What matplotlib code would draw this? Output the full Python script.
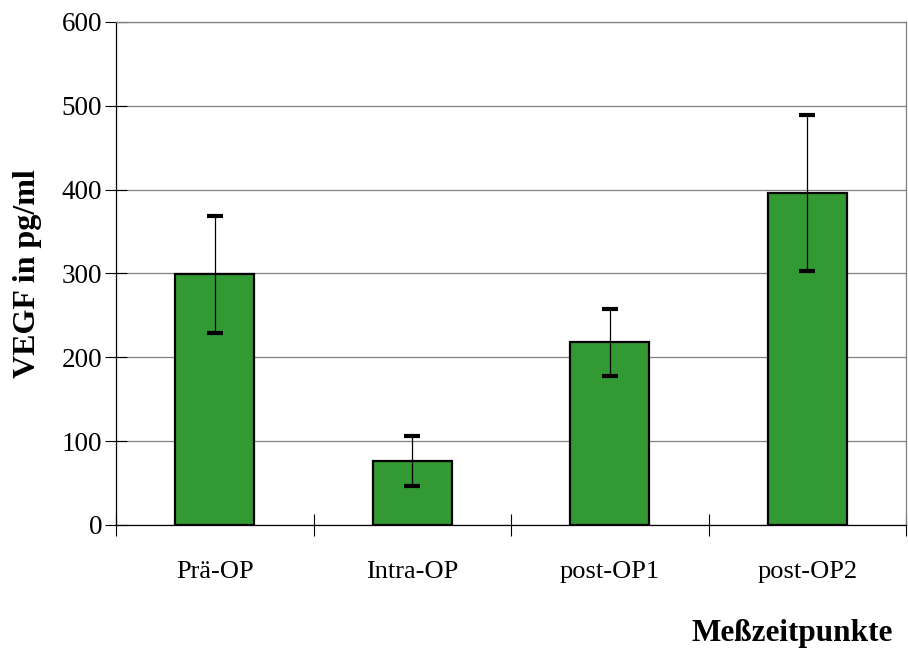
import numpy as np
import matplotlib.pyplot as plt

plt.rcParams['font.family'] = ['Liberation Serif', 'DejaVu Serif']

categories = ['Prä-OP', 'Intra-OP', 'post-OP1', 'post-OP2']
vegf = [299, 76, 218, 396]
err = [70, 30, 40, 93]

fig = plt.figure(figsize=(9.08, 6.49), dpi=100)
ax = fig.add_axes([116/908, 1-525/649, 790/908, 503/649])

x = np.arange(len(categories))
ax.bar(x, vegf, width=0.4, color='#339933', edgecolor='black', linewidth=1.6, zorder=2)
ax.errorbar(x, vegf, yerr=err, fmt='none', ecolor='black', elinewidth=0.9,
            capsize=5.8, capthick=3, zorder=3)

ax.set_xlim(-0.5, len(categories)-0.5)
ax.set_ylim(0, 600)
ax.set_yticks(np.arange(0, 601, 100))
ax.yaxis.grid(True, color='#808080', linewidth=0.9, zorder=0)
ax.set_axisbelow(True)

# category labels between the boundary ticks
ax.set_xticks(np.arange(-0.5, len(categories), 1.0))
ax.set_xticklabels([])
ax.set_xticks(x, minor=True)
ax.set_xticklabels(categories, minor=True, fontsize=19)
ax.tick_params(axis='x', which='minor', length=0, pad=26)
ax.tick_params(axis='x', which='major', direction='inout', length=16, width=0.8)
ax.tick_params(axis='y', direction='inout', length=16, width=0.8, labelsize=19.5, pad=2)

for s in ['top', 'right']:
    ax.spines[s].set_color('#808080')
    ax.spines[s].set_linewidth(0.9)
for s in ['left', 'bottom']:
    ax.spines[s].set_color('black')
    ax.spines[s].set_linewidth(0.9)

ax.set_ylabel('VEGF in pg/ml', fontsize=23, fontweight='bold', labelpad=14)
fig.text(893/908, 1-633/649, 'Meßzeitpunkte', fontsize=22.5, fontweight='bold',
         ha='right', va='center')

fig.savefig('out.png', dpi=100)
